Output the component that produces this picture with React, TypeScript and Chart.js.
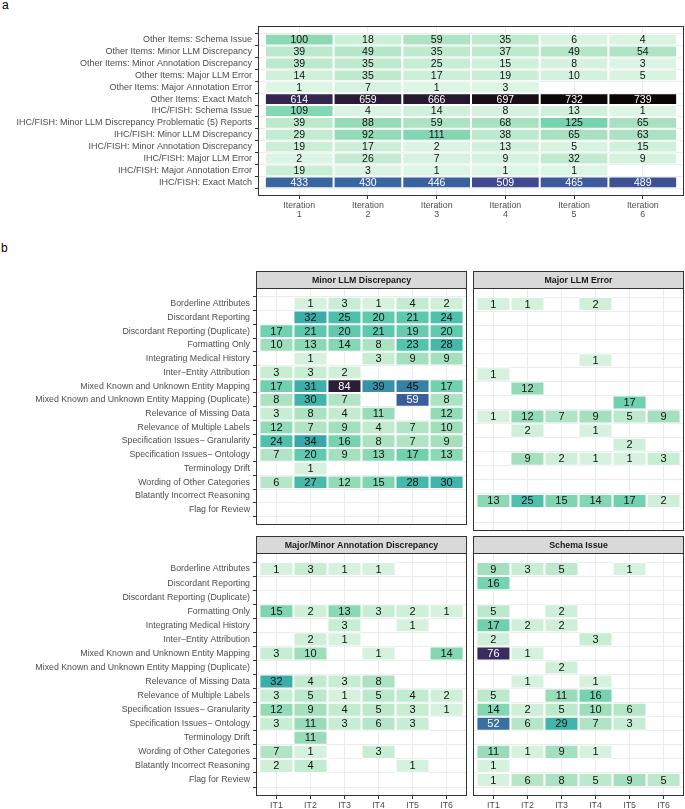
import React, { useEffect, useRef } from 'react';
import Chart from 'chart.js/auto';

const FONT = "'Liberation Sans', Arial, Helvetica, sans-serif";
const _ = null;

// ---------- Panel a data ----------
const iterationLabels = ['1', '2', '3', '4', '5', '6'];
const summaryRows = [
  'Other Items: Schema Issue',
  'Other Items: Minor LLM Discrepancy',
  'Other Items: Minor Annotation Discrepancy',
  'Other Items: Major LLM Error',
  'Other Items: Major Annotation Error',
  'Other Items: Exact Match',
  'IHC/FISH: Schema Issue',
  'IHC/FISH: Minor LLM Discrepancy Problematic (5) Reports',
  'IHC/FISH: Minor LLM Discrepancy',
  'IHC/FISH: Minor Annotation Discrepancy',
  'IHC/FISH: Major LLM Error',
  'IHC/FISH: Major Annotation Error',
  'IHC/FISH: Exact Match',
];
const summaryValues: (number | null)[][] = [
  [100, 18, 59, 35, 6, 4],
  [39, 49, 35, 37, 49, 54],
  [39, 35, 25, 15, 8, 3],
  [14, 35, 17, 19, 10, 5],
  [1, 7, 1, 3, _, _],
  [614, 659, 666, 697, 732, 739],
  [109, 4, 14, 8, 13, 1],
  [39, 88, 59, 68, 125, 65],
  [29, 92, 111, 38, 65, 63],
  [19, 17, 2, 13, 5, 15],
  [2, 26, 7, 9, 32, 9],
  [19, 3, 1, 1, 1, _],
  [433, 430, 446, 509, 465, 489],
];

// ---------- Panel b data ----------
const itLabels = ['IT1', 'IT2', 'IT3', 'IT4', 'IT5', 'IT6'];
const errorTypes = [
  'Borderline Attributes',
  'Discordant Reporting',
  'Discordant Reporting (Duplicate)',
  'Formatting Only',
  'Integrating Medical History',
  'Inter\u2212Entity Attribution',
  'Mixed Known and Unknown Entity Mapping',
  'Mixed Known and Unknown Entity Mapping (Duplicate)',
  'Relevance of Missing Data',
  'Relevance of Multiple Labels',
  'Specification Issues\u2212 Granularity',
  'Specification Issues\u2212 Ontology',
  'Terminology Drift',
  'Wording of Other Categories',
  'Blatantly Incorrect Reasoning',
  'Flag for Review',
];
const minorLlmValues: (number | null)[][] = [
  [_, 1, 3, 1, 4, 2],
  [_, 32, 25, 20, 21, 24],
  [17, 21, 20, 21, 19, 20],
  [10, 13, 14, 8, 23, 28],
  [_, 1, _, 3, 9, 9],
  [3, 3, 2, _, _, _],
  [17, 31, 84, 39, 45, 17],
  [8, 30, 7, _, 59, 8],
  [3, 8, 4, 11, _, 12],
  [12, 7, 9, 4, 7, 10],
  [24, 34, 16, 8, 7, 9],
  [7, 20, 9, 13, 17, 13],
  [_, 1, _, _, _, _],
  [6, 27, 12, 15, 28, 30],
  [_, _, _, _, _, _],
  [_, _, _, _, _, _],
];
const majorLlmValues: (number | null)[][] = [
  [1, 1, _, 2, _, _],
  [_, _, _, _, _, _],
  [_, _, _, _, _, _],
  [_, _, _, _, _, _],
  [_, _, _, 1, _, _],
  [1, _, _, _, _, _],
  [_, 12, _, _, _, _],
  [_, _, _, _, 17, _],
  [1, 12, 7, 9, 5, 9],
  [_, 2, _, 1, _, _],
  [_, _, _, _, 2, _],
  [_, 9, 2, 1, 1, 3],
  [_, _, _, _, _, _],
  [_, _, _, _, _, _],
  [13, 25, 15, 14, 17, 2],
  [_, _, _, _, _, _],
];
const annotationValues: (number | null)[][] = [
  [1, 3, 1, 1, _, _],
  [_, _, _, _, _, _],
  [_, _, _, _, _, _],
  [15, 2, 13, 3, 2, 1],
  [_, _, 3, _, 1, _],
  [_, 2, 1, _, _, _],
  [3, 10, _, 1, _, 14],
  [_, _, _, _, _, _],
  [32, 4, 3, 8, _, _],
  [3, 5, 1, 5, 4, 2],
  [12, 9, 4, 5, 3, 1],
  [3, 11, 3, 6, 3, _],
  [_, 11, _, _, _, _],
  [7, 1, _, 3, _, _],
  [2, 4, _, _, 1, _],
  [_, _, _, _, _, _],
];
const schemaValues: (number | null)[][] = [
  [9, 3, 5, _, 1, _],
  [16, _, _, _, _, _],
  [_, _, _, _, _, _],
  [5, _, 2, _, _, _],
  [17, 2, 2, _, _, _],
  [2, _, _, 3, _, _],
  [76, 1, _, _, _, _],
  [_, _, 2, _, _, _],
  [_, 1, _, 1, _, _],
  [5, _, 11, 16, _, _],
  [14, 2, 5, 10, 6, _],
  [52, 6, 29, 7, 3, _],
  [_, _, _, _, _, _],
  [11, 1, 9, 1, _, _],
  [1, _, _, _, _, _],
  [1, 6, 8, 5, 9, 5],
];

// ---------- colour scale (reversed "mako") ----------
const makoStops: [number, string][] = [
  [0, '#0B0405'], [0.06, '#1A0F18'], [0.11, '#2A1B36'], [0.17, '#34264E'],
  [0.2, '#3A2D5E'], [0.31, '#3E4A8D'], [0.41, '#3A65A0'], [0.53, '#3782A4'],
  [0.59, '#3692A8'], [0.66, '#3AADAA'], [0.75, '#4FC2AD'], [0.82, '#6ED1AE'],
  [0.87, '#90DAB5'], [0.91, '#A8E1BF'], [0.97, '#C8EDD4'], [1, '#DEF5E5'],
];
function hexToRgb(h: string) {
  return [parseInt(h.slice(1, 3), 16), parseInt(h.slice(3, 5), 16), parseInt(h.slice(5, 7), 16)];
}
function mako(pos: number) {
  const p = Math.max(0, Math.min(1, pos));
  for (let i = 1; i < makoStops.length; i++) {
    const [p1, c1] = makoStops[i];
    const [p0, c0] = makoStops[i - 1];
    if (p <= p1) {
      const f = (p - p0) / (p1 - p0 || 1);
      const a = hexToRgb(c0), b = hexToRgb(c1);
      const m = a.map((v, k) => Math.round(v + (b[k] - v) * f));
      return `rgb(${m[0]},${m[1]},${m[2]})`;
    }
  }
  return makoStops[makoStops.length - 1][1];
}
const fillFor = (v: number, max: number) => mako(1 - v / max);
const textFor = (v: number, max: number) => (1 - v / max < 0.46 ? '#FFFFFF' : '#111111');

// ---------- plugins ----------
const cellLabels = {
  id: 'cellLabels',
  afterDatasetsDraw(chart: any, _args: any, opts: any) {
    const ctx = chart.ctx;
    ctx.save();
    ctx.font = `${opts.size}px ${FONT}`;
    ctx.textAlign = 'center';
    ctx.textBaseline = 'middle';
    chart.data.datasets.forEach((ds: any, i: number) => {
      const meta = chart.getDatasetMeta(i);
      meta.data.forEach((el: any, j: number) => {
        const raw = ds.data[j];
        if (!raw) return;
        const p = el.getProps(['x', 'y', 'base'], true);
        ctx.fillStyle = textFor(raw.v, opts.max);
        ctx.fillText(String(raw.v), (p.x + p.base) / 2, p.y + 0.5);
      });
    });
    ctx.restore();
  },
};

const frame = {
  id: 'frame',
  afterDraw(chart: any, _args: any, opts: any) {
    const { left, top, right, bottom } = chart.chartArea;
    const ctx = chart.ctx;
    ctx.save();
    ctx.strokeStyle = '#333333';
    ctx.lineWidth = 1;
    const l = Math.round(left) + 0.5, t = Math.round(top) + 0.5;
    const w = Math.round(right) - Math.round(left) - 1, h = Math.round(bottom) - Math.round(top) - 1;
    ctx.strokeRect(l, t, w, h);
    if (opts.strip) {
      const sh = opts.stripHeight;
      ctx.fillStyle = '#D9D9D9';
      ctx.fillRect(l, t - sh, w, sh);
      ctx.strokeRect(l, t - sh, w, sh);
      ctx.fillStyle = '#1A1A1A';
      ctx.font = `bold 8.8px ${FONT}`;
      ctx.textAlign = 'center';
      ctx.textBaseline = 'middle';
      ctx.fillText(opts.strip, (left + right) / 2, t - sh / 2 + 0.5);
    }
    ctx.restore();
  },
};

type HeatProps = {
  left: number; top: number; width: number; height: number;
  rows: string[]; cols: (string | string[])[]; values: (number | null)[][]; max: number;
  showY: boolean; showX: boolean; yWidth: number; xHeight: number;
  padding: { top: number; right: number; bottom: number; left: number };
  numSize: number; labelSize: number; strip?: string;
};

function Heat(props: HeatProps) {
  const ref = useRef<HTMLCanvasElement | null>(null);
  useEffect(() => {
    if (!ref.current) return;
    const { rows, cols, values, max } = props;
    const datasets = cols.map((_c, c) => {
      const data: any[] = [];
      values.forEach((row, r) => {
        const v = row[c];
        if (v !== null && v !== undefined) data.push({ x: [c + 0.5, c + 1.5], y: r, v });
      });
      return {
        data,
        backgroundColor: (ctx: any) => (ctx.raw ? fillFor(ctx.raw.v, max) : 'transparent'),
        borderColor: '#FFFFFF',
        borderWidth: 1,
        borderSkipped: false,
        grouped: false,
        barPercentage: 1,
        categoryPercentage: 1,
        inflateAmount: 0,
      };
    });
    const yFont = { family: FONT, size: props.labelSize, lineHeight: 1.05 };
    const xFont = { family: FONT, size: 8.8, lineHeight: 1.05 };
    const chart = new Chart(ref.current, {
      type: 'bar',
      data: { datasets } as any,
      options: {
        indexAxis: 'y',
        animation: false,
        responsive: false,
        events: [],
        layout: { padding: props.padding },
        plugins: {
          legend: { display: false },
          tooltip: { enabled: false },
          cellLabels: { size: props.numSize, max },
          frame: { strip: props.strip || '', stripHeight: 17 },
        } as any,
        scales: {
          x: {
            type: 'linear',
            min: 0.4,
            max: cols.length + 0.6,
            bounds: 'data',
            afterBuildTicks: (s: any) => { s.ticks = cols.map((_c, i) => ({ value: i + 1 })); },
            afterFit: (s: any) => { s.height = props.xHeight; },
            border: { display: false },
            grid: { color: '#EBEBEB', lineWidth: 1, drawTicks: props.showX, tickLength: 3, tickColor: '#333333' },
            ticks: {
              display: props.showX,
              autoSkip: false,
              maxRotation: 0,
              padding: 2,
              color: '#4D4D4D',
              font: xFont,
              callback: (v: any) => cols[Math.round(Number(v)) - 1] as any,
            },
          },
          y: {
            type: 'linear',
            reverse: true,
            min: -0.6,
            max: rows.length - 0.4,
            bounds: 'data',
            afterBuildTicks: (s: any) => { s.ticks = rows.map((_r, i) => ({ value: i })); },
            afterFit: (s: any) => { s.width = props.yWidth; },
            border: { display: false },
            grid: { color: '#EBEBEB', lineWidth: 1, drawTicks: props.showY, tickLength: 3, tickColor: '#333333' },
            ticks: {
              display: props.showY,
              autoSkip: false,
              padding: 3,
              color: '#4D4D4D',
              font: yFont,
              callback: (v: any) => rows[Math.round(Number(v))],
            },
          },
        } as any,
      },
      plugins: [cellLabels, frame] as any,
    });
    return () => chart.destroy();
  }, []);
  return (
    <canvas
      ref={ref}
      width={props.width}
      height={props.height}
      style={{ position: 'absolute', left: props.left, top: props.top, width: props.width, height: props.height }}
    />
  );
}

export default function App() {
  const labelStyle: React.CSSProperties = {
    position: 'absolute', fontFamily: FONT, fontSize: 12, lineHeight: '12px', color: '#000',
  };
  return (
    <div style={{ position: 'absolute', left: 0, top: 0, width: 685, height: 809, overflow: 'hidden', background: '#fff' }}>
      <div style={{ ...labelStyle, left: 2, top: -1 }}>a</div>
      <div style={{ ...labelStyle, left: 1, top: 242 }}>b</div>
      <Heat
        left={0} top={0} width={685} height={222}
        rows={summaryRows} cols={iterationLabels.map((n) => ['Iteration', n])}
        values={summaryValues} max={739}
        showY showX yWidth={258} xHeight={26}
        padding={{ top: 26, right: 1, bottom: 0, left: 0 }}
        numSize={10.5} labelSize={9}
      />
      <Heat
        left={0} top={269} width={468} height={264}
        rows={errorTypes} cols={itLabels} values={minorLlmValues} max={95}
        showY showX={false} yWidth={256} xHeight={0}
        padding={{ top: 19, right: 1, bottom: 2, left: 0 }}
        numSize={11} labelSize={8.8} strip="Minor LLM Discrepancy"
      />
      <Heat
        left={472} top={269} width={213} height={264}
        rows={errorTypes} cols={itLabels} values={majorLlmValues} max={95}
        showY={false} showX={false} yWidth={0} xHeight={0}
        padding={{ top: 19, right: 1, bottom: 2, left: 1 }}
        numSize={11} labelSize={8.8} strip="Major LLM Error"
      />
      <Heat
        left={0} top={534} width={468} height={275}
        rows={errorTypes} cols={itLabels} values={annotationValues} max={95}
        showY showX yWidth={256} xHeight={13}
        padding={{ top: 19, right: 1, bottom: 0, left: 0 }}
        numSize={11} labelSize={8.8} strip="Major/Minor Annotation Discrepancy"
      />
      <Heat
        left={472} top={534} width={213} height={275}
        rows={errorTypes} cols={itLabels} values={schemaValues} max={95}
        showY={false} showX yWidth={0} xHeight={13}
        padding={{ top: 19, right: 1, bottom: 0, left: 1 }}
        numSize={11} labelSize={8.8} strip="Schema Issue"
      />
    </div>
  );
}
